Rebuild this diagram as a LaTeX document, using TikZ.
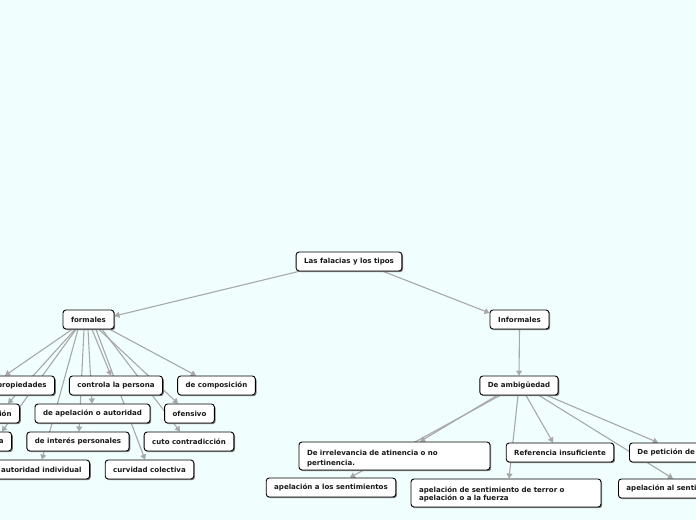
\documentclass[tikz,border=0pt]{standalone}
\usepackage{fontspec}
\setmainfont{DejaVu Sans}
\usetikzlibrary{calc,arrows.meta,shadows}
\definecolor{bgc}{HTML}{F0FFFE}
\definecolor{edgec}{HTML}{A8A8A8}
\pgfdeclarelayer{back}
\pgfdeclarelayer{edges}
\pgfsetlayers{back,edges,main}
\tikzset{
  box/.style={draw=black, line width=0.9bp, fill=white, rounded corners=3bp,
    minimum height=19bp, inner xsep=8bp, inner ysep=2bp,
    font=\fontsize{7.05bp}{8.5bp}\selectfont\bfseries, text=black!90,
    drop shadow={shadow xshift=1.2bp, shadow yshift=-1.2bp, fill=black!50, opacity=1}},
  link/.style={draw=edgec, line width=1.1bp, -{Triangle[length=5bp,width=6bp]}},
}
\begin{document}
\begin{tikzpicture}[x=1bp,y=-1bp]
\useasboundingbox (0,0) rectangle (696,520);
\begin{pgfonlayer}{back}
  \fill[bgc] (0,0) rectangle (696,520);
\end{pgfonlayer}

% root and main branches
\node[box, minimum width=104bp] (root) at (349,261.5) {Las falacias y los tipos};
\node[box, minimum width=51bp] (formales) at (88.5,319.5) {formales};
\node[box, minimum width=59bp] (informales) at (519.5,319.5) {Informales};

% formales children
\node[box, anchor=east] (prop) at (55,385.5) {propiedades};
\node[box, minimum width=92bp] (controla) at (116,385.5) {controla la persona};
\node[box, minimum width=77bp] (comp) at (216.5,385.5) {de composición};
\node[box, anchor=east] (ion) at (20,413.5) {ión};
\node[box, minimum width=113bp] (apel) at (92.5,413.5) {de apelación o autoridad};
\node[box, minimum width=49bp] (ofensivo) at (189.5,413.5) {ofensivo};
\node[box, anchor=east] (aa) at (12,441.5) {a};
\node[box, minimum width=100bp] (interes) at (78,441.5) {de interés personales};
\node[box, minimum width=88bp] (cuto) at (189,441.5) {cuto contradicción};
\node[box, anchor=east] (autind) at (90,469.5) {de autoridad individual};
\node[box, minimum width=87bp] (curv) at (149.5,469.5) {curvidad colectiva};

% informales children
\node[box, minimum width=76bp] (ambig) at (519,385.5) {De ambigüedad};
\node[box, minimum width=191bp, minimum height=28bp, text width=175bp, align=left,
      font=\fontsize{7.05bp}{10bp}\selectfont\bfseries] (irrel) at (394.5,456)
      {\rule{0pt}{10bp}De irrelevancia de atinencia o no\\pertinencia.};
\node[box, minimum width=106bp] (refins) at (560,452.5) {Referencia insuficiente};
\node[box, anchor=west] (pet) at (629,452.5) {De petición de principio};
\node[box, minimum width=128bp] (apelsent) at (331,487.5) {apelación a los sentimientos};
\node[box, minimum width=190bp, minimum height=28bp, text width=174bp, align=left,
      font=\fontsize{7.05bp}{8.5bp}\selectfont\bfseries] (terror) at (506,493)
      {\rule{0pt}{8bp}apelación de sentimiento de terror o\\apelación o a la fuerza};
\node[box, anchor=west] (alsent) at (618,488.5) {apelación al sentimiento};

\begin{pgfonlayer}{edges}
  \draw[link] ($(root.south west)+(3,0)$) -- ($(formales.east)+(0,-3.5)$);
  \draw[link] ($(root.south east)+(-19,0)$) -- ($(informales.west)+(0,-6.5)$);

  \draw[link] ($(formales.south)+(-16.5,0)$) -- ($(prop.north east)+(-50,0)$);
  \draw[link] ($(formales.south)+(-13.5,0)$) -- ($(ion.north east)+(-12,0)$);
  \draw[link] ($(formales.south)+(-12.5,0)$) -- ($(aa.north east)+(-10,0)$);
  \draw[link] ($(formales.south)+(-10.5,0)$) -- ($(autind.north east)+(-48,0)$);
  \draw[link] ($(formales.south)+(-4.5,0)$) -- ($(interes.north)+(1,0)$);
  \draw[link] ($(formales.south)+(-0.5,0)$) -- ($(apel.north)+(-0.5,0)$);
  \draw[link] ($(formales.south)+(3.5,0)$) -- ($(controla.north)+(-5,0)$);
  \draw[link] ($(formales.south)+(7.5,0)$) -- ($(curv.north)+(-4.5,0)$);
  \draw[link] ($(formales.south)+(10.5,0)$) -- ($(ofensivo.north)+(-11.5,0)$);
  \draw[link] ($(formales.south)+(13.5,0)$) -- ($(cuto.north)+(-9,0)$);
  \draw[link] ($(formales.south)+(21.5,0)$) -- ($(comp.north)+(-20.5,0)$);

  \draw[link] (informales.south) -- (ambig.north);
  \draw[link] ($(ambig.south)+(-22,0)$) -- ($(irrel.north)+(25.5,0)$);
  \draw[link] ($(ambig.south)+(-19,0)$) -- ($(apelsent.north)+(19,0)$);
  \draw[link] ($(ambig.south)+(-1,0)$) -- ($(terror.north)+(3,0)$);
  \draw[link] ($(ambig.south)+(7,0)$) -- ($(refins.north)+(-7,0)$);
  \draw[link] ($(ambig.south)+(20,0)$) -- ($(alsent.north west)+(55,0)$);
  \draw[link] ($(ambig.south)+(28,0)$) -- ($(pet.north west)+(29,0)$);
\end{pgfonlayer}
\end{tikzpicture}
\end{document}
